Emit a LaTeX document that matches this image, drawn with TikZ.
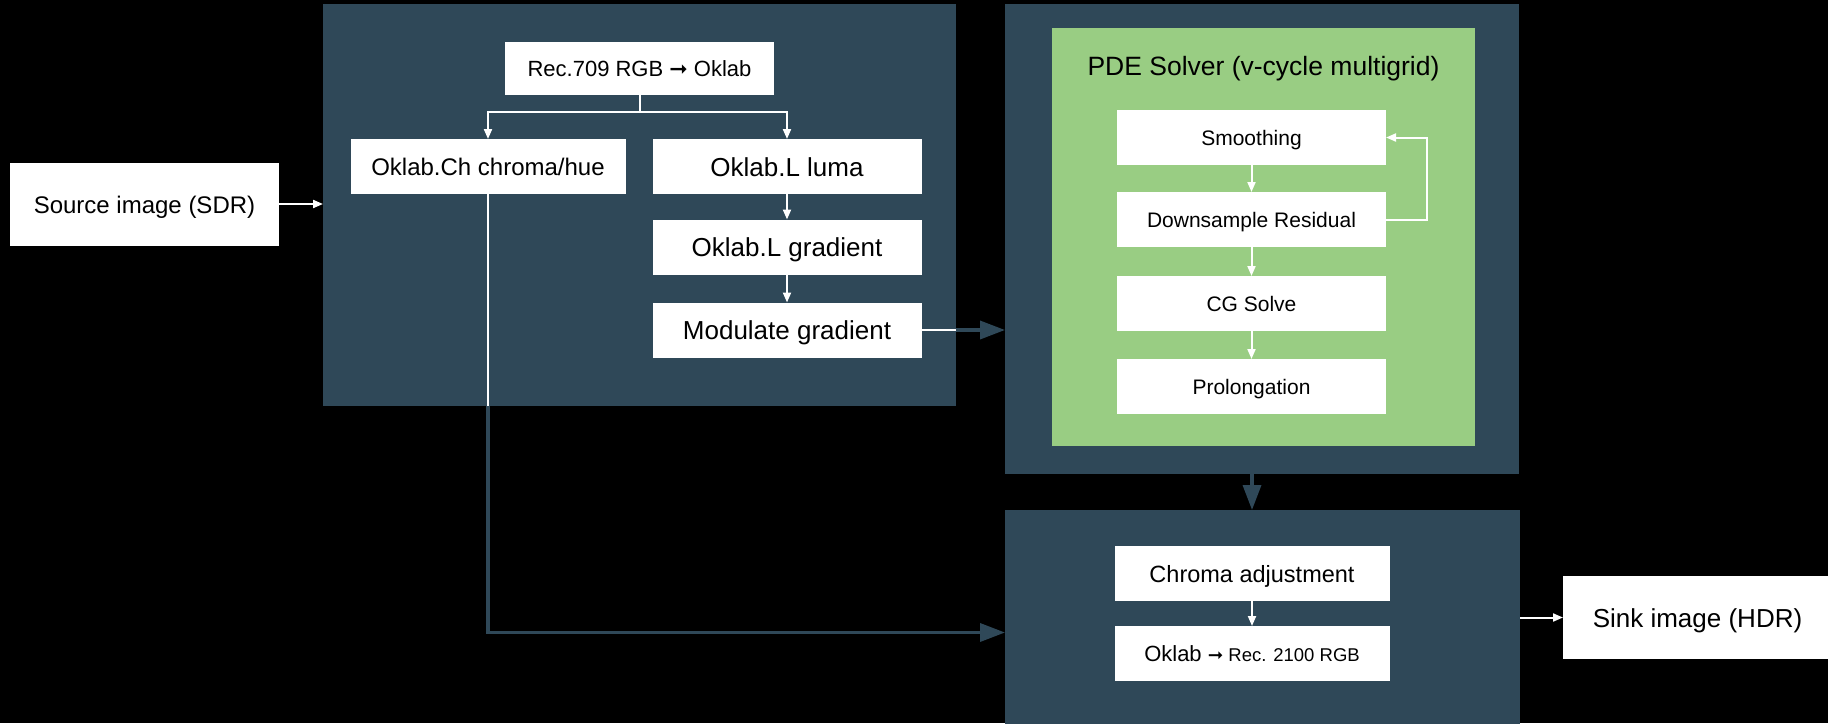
\documentclass[tikz,border=0pt]{standalone}
\usepackage{fontspec}
\setmainfont{Liberation Sans}
\newfontfamily\arrowfont{DejaVu Sans}
\usetikzlibrary{arrows.meta}
\definecolor{panel}{HTML}{2F4858}
\definecolor{solver}{HTML}{99CD83}
\newcommand{\fsz}[1]{\fontsize{#1}{#1}\selectfont}
\newcommand{\rarr}{{\arrowfont ➞}}
\begin{document}
\begin{tikzpicture}[x=1pt,y=-1pt,
  panelbox/.style={fill=panel, draw=none, inner sep=0pt, outer sep=0pt},
  greenbox/.style={fill=solver, draw=none, inner sep=0pt, outer sep=0pt},
  wbox/.style={fill=white, draw=none, minimum width=269pt, minimum height=55pt, inner sep=0pt, outer sep=0pt, text=black, align=center},
  tx/.style={font=\fsz{#1}, text height={0.8*#1pt}, text depth={0.04*#1pt}},
  wline/.style={draw=white, line width=2pt},
  warrow/.style={wline, -{Triangle[length=10pt,width=8pt]}},
  darrow/.style={draw=panel, line width=3.5pt, -{Triangle[length=25pt,width=18pt]}}]
\fill[black] (0,0) rectangle (1828,723);
\useasboundingbox (0,0) rectangle (1828,723);
\clip (0,0) rectangle (1828,723);

% panels
\node[panelbox, minimum width=633pt, minimum height=402pt] (box1) at (639.5,205) {};
\node[panelbox, minimum width=514pt, minimum height=470pt] (box2) at (1262,239) {};
\node[greenbox, minimum width=423pt, minimum height=418pt] (green) at (1263.5,237) {};
\node[panelbox, minimum width=515pt, minimum height=230pt] (box3) at (1262.5,625) {};

% outer nodes
\node[wbox, tx=24, minimum height=83pt] (src) at (144.5,204) {Source image (SDR)};
\node[wbox, tx=26, minimum height=83pt] (sink) at (1697.5,617.5) {Sink image (HDR)};

% box1 contents
\node[wbox, tx=22, minimum height=53pt] (rec) at (639.5,68.5) {Rec.709 RGB \rarr\ Oklab};
\node[wbox, tx=24, minimum width=275pt] (ch) at (488,166.5) {Oklab.Ch chroma/hue};
\node[wbox, tx=26] (luma) at (787,166.5) {Oklab.L luma};
\node[wbox, tx=26] (grad) at (787,247) {Oklab.L gradient};
\node[wbox, tx=26] (mod) at (787,330) {Modulate gradient};

% solver contents
\node[tx=26.5, text=black, inner sep=0pt] (title) at (1263.5,65) {PDE Solver (v-cycle multigrid)};
\node[wbox, tx=21] (smooth) at (1251.5,137.5) {Smoothing};
\node[wbox, tx=21] (down) at (1251.5,219.5) {Downsample Residual};
\node[wbox, tx=21] (cg) at (1251.5,303.5) {CG Solve};
\node[wbox, tx=21] (prol) at (1251.5,386.5) {Prolongation};

% box3 contents
\node[wbox, tx=23.5, minimum width=275pt] (cadj) at (1252,573.5) {Chroma adjustment};
\node[wbox, tx=22, minimum width=275pt] (out) at (1252,653.5) {Oklab {\fsz{18.5}\rarr\ Rec. 2100 RGB}};

% connectors
\draw[warrow] (src.east) -- (src.east -| box1.west);
\draw[warrow] (rec.south) -- ++(0,17) -| (ch.north);
\draw[warrow] (rec.south) -- ++(0,17) -| (luma.north);
\draw[warrow] (luma.south) -- (grad.north);
\draw[warrow] (grad.south) -- (mod.north);
\draw[wline] (mod.east) -- (mod.east -| box1.east);
\draw[darrow] (mod.east -| box1.east) -- (mod.east -| box2.west);
\draw[wline] (ch.south) -- (ch.south |- box1.south);
\draw[darrow] (ch.south |- box1.south) |- ([yshift=-7.5pt]box3.west);
\draw[warrow] (smooth.south) -- (down.north);
\draw[warrow] (down.south) -- (cg.north);
\draw[warrow] (cg.south) -- (prol.north);
\draw[warrow] (down.east) -- ++(41,0) |- (smooth.east);
\draw[darrow] (box2.south -| cadj.north) -- (box3.north -| cadj.north);
\draw[warrow] (cadj.south) -- (out.north);
\draw[warrow] (box3.east |- sink.west) -- (sink.west);
\end{tikzpicture}
\end{document}
